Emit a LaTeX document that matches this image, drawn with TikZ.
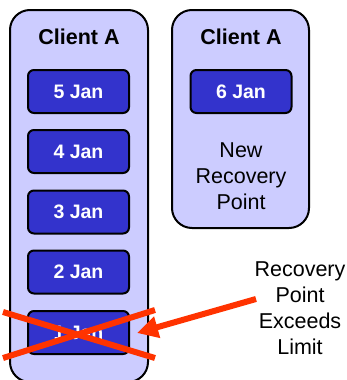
\documentclass[tikz,border=0pt]{standalone}
\usepackage{fontspec}
\setmainfont{Liberation Sans}
\usetikzlibrary{arrows.meta}
\definecolor{panelfill}{HTML}{CCCCFF}
\definecolor{boxfill}{HTML}{3333CC}
\definecolor{crossred}{HTML}{FF3300}
\begin{document}
\begin{tikzpicture}[x=1pt,y=-1pt,
  panel/.style={draw=black,line width=2pt,fill=panelfill,rounded corners=20pt},
  datebox/.style={draw=black,line width=2pt,fill=boxfill,rounded corners=6pt,
    minimum width=101pt,minimum height=43pt,inner sep=0pt,
    text=white,font=\fontsize{19.5}{22}\selectfont\bfseries},
  title/.style={font=\fontsize{21.5}{24}\selectfont\bfseries,inner sep=0pt},
  note/.style={font=\fontsize{21.5}{26}\selectfont,align=center,inner sep=0pt},
  redline/.style={draw=crossred,line width=6pt},
]
\useasboundingbox (0,0) rectangle (346,380);
% panels
\draw[panel] (10,10) rectangle (148,382);
\draw[panel] (172,10) rectangle (309,228);
\node[title] (t1) at (79,37) {Client A};
\node[title] (t2) at (241,37) {Client A};
% date boxes
\node[datebox] (d5) at (78.5,91.5) {5 Jan};
\node[datebox] (d4) at (78.5,151.5) {4 Jan};
\node[datebox] (d3) at (78.5,212) {3 Jan};
\node[datebox] (d2) at (78.5,272) {2 Jan};
\node[datebox] (d1) at (78.5,332.5) {1 Jan};
\node[datebox] (d6) at (241,91.5) {6 Jan};
\node[note] (newrp) at (241,176) {New\\Recovery\\Point};
\node[note] (limit) at (300,308) {Recovery\\Point\\Exceeds\\Limit};
% cross
\coordinate (xa) at (3,312);
\coordinate (xb) at (155,358);
\coordinate (xc) at (3,358);
\coordinate (xd) at (155,310);
\draw[redline] (xa) -- (xb);
\draw[redline] (xc) -- (xd);
% arrow
\coordinate (as) at (256,299);
\coordinate (ae) at (137,333);
\draw[redline,-{Triangle[length=21pt,width=21pt]}] (as) -- (ae);
\end{tikzpicture}
\end{document}
